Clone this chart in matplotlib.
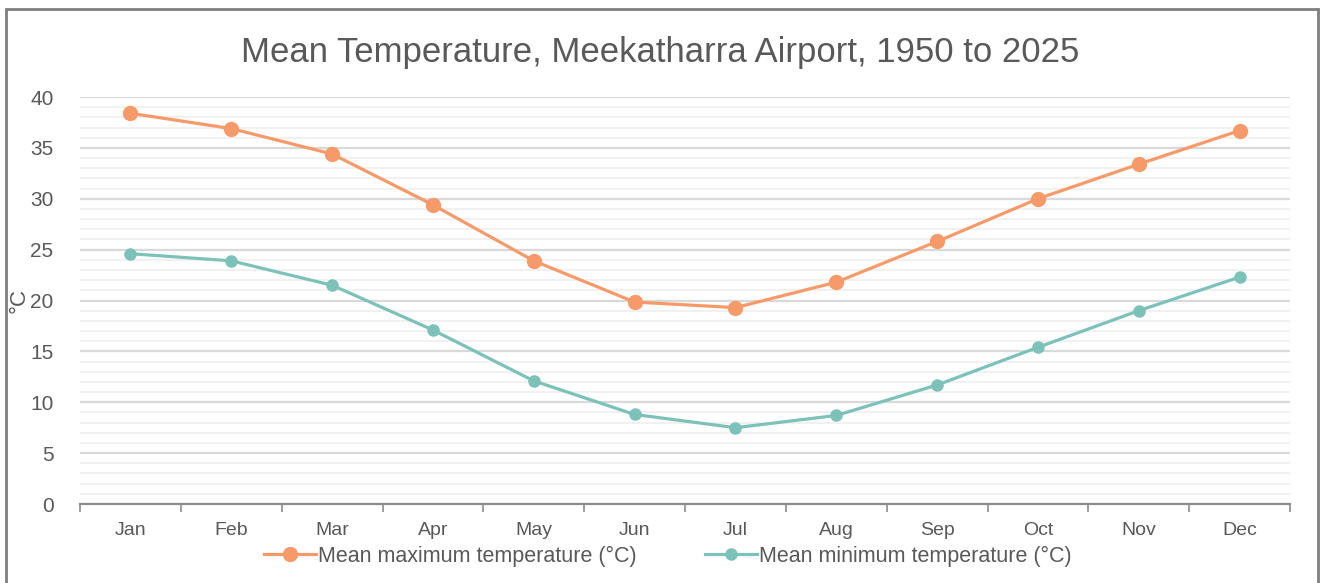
import numpy as np
import matplotlib.pyplot as plt
from matplotlib.ticker import MultipleLocator
from matplotlib.patches import Rectangle

months = ["Jan", "Feb", "Mar", "Apr", "May", "Jun", "Jul", "Aug", "Sep", "Oct", "Nov", "Dec"]
meanMax = [38.4, 36.9, 34.4, 29.4, 23.9, 19.85, 19.3, 21.8, 25.8, 30.0, 33.4, 36.7]
meanMin = [24.6, 23.9, 21.5, 17.1, 12.1, 8.8, 7.5, 8.7, 11.7, 15.4, 19.0, 22.3]
seriesNames = ["Mean maximum temperature (°C)", "Mean minimum temperature (°C)"]

plt.rcParams['font.family'] = ['Liberation Sans', 'DejaVu Sans']

fig = plt.figure(figsize=(13.2, 5.83), dpi=100)
ax = fig.add_axes([0.0606, 0.1355, 0.9167, 0.6981])

# outer chart frame
fig.patches.append(Rectangle((6/1320, -0.05), 1312/1320, 1.05 - 9/583, transform=fig.transFigure,
                             fill=False, edgecolor="#7f7f7f", linewidth=2))

x = np.arange(len(months))
ax.plot(x, meanMax, color="#F79A6A", linewidth=2.3, marker="o", markersize=10, label=seriesNames[0], zorder=3)
ax.plot(x, meanMin, color="#7CC2B8", linewidth=2.3, marker="o", markersize=8, label=seriesNames[1], zorder=3)

ax.set_xlim(-0.5, 11.5)
ax.set_ylim(0, 40)
ax.set_xticks(x)
ax.set_xticklabels(months)
ax.set_xticks(np.arange(-0.5, 12, 1), minor=True)
ax.tick_params(axis="x", which="major", length=0, pad=13, labelsize=14, labelcolor="#595959")
ax.tick_params(axis="x", which="minor", length=6, width=1.2, color="#8c8c8c", direction="out")
ax.yaxis.set_major_locator(MultipleLocator(5))
ax.yaxis.set_minor_locator(MultipleLocator(1))
ax.tick_params(axis="y", which="both", length=0, pad=19, labelsize=15, labelcolor="#595959")

ax.grid(axis="y", which="major", color="#d9d9d9", linewidth=1.6)
ax.grid(axis="y", which="minor", color="#efefef", linewidth=1.2)
ax.set_axisbelow(True)

for s in ["top", "right", "left"]:
    ax.spines[s].set_visible(False)
ax.spines["bottom"].set_color("#8c8c8c")
ax.spines["bottom"].set_linewidth(1.6)

ax.set_ylabel("°C", fontsize=16, color="#595959")
ax.yaxis.set_label_coords(-0.042, 0.5)

fig.text(0.5, 0.91, "Mean Temperature, Meekatharra Airport, 1950 to 2025", ha="center", va="center",
         fontsize=25, color="#595959")

leg = ax.legend(loc="center", bbox_to_anchor=(668/1320, 1 - 556/583), bbox_transform=fig.transFigure,
                ncol=2, frameon=False, fontsize=15.5, handlelength=2.4, handletextpad=0.1,
                columnspacing=3.2, labelcolor="#595959", borderpad=0.2)

fig.savefig("out.png", dpi=100)
